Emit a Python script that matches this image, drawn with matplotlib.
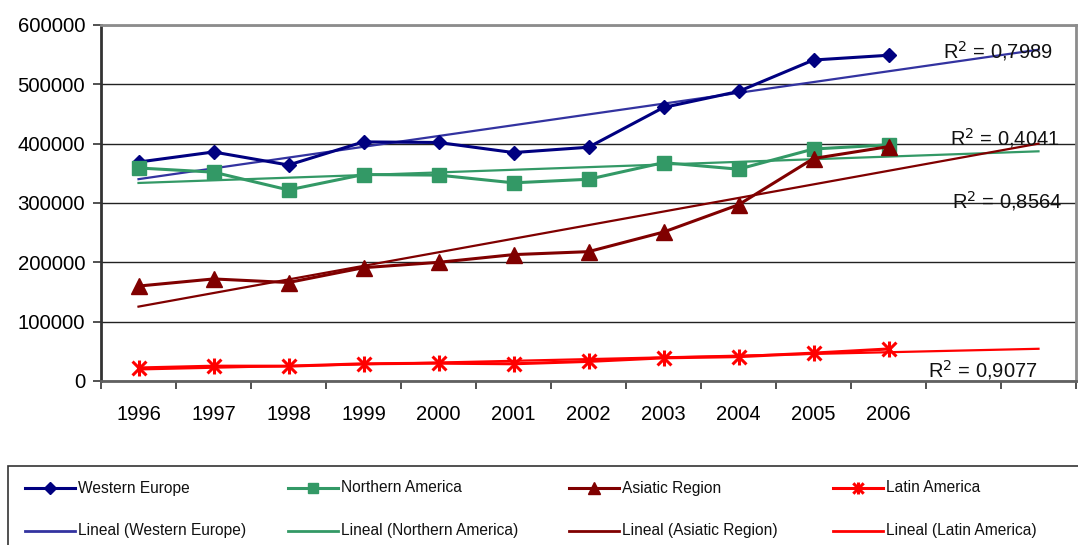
import numpy as np
import matplotlib
matplotlib.use("Agg")
import matplotlib.pyplot as plt
from matplotlib.lines import Line2D
from matplotlib.patches import Rectangle
from matplotlib.path import Path

plt.rcParams['font.family'] = ['Liberation Sans', 'DejaVu Sans']

# Annual figures by region
years = ['1996', '1997', '1998', '1999', '2000', '2001', '2002', '2003', '2004', '2005', '2006']
western_europe = [369000, 386000, 364000, 403000, 402000, 385000, 394000, 461000, 488000, 541000, 549000]
northern_america = [359000, 352000, 322000, 348000, 347000, 334000, 340000, 368000, 357000, 391000, 398000]
asiatic_region = [160000, 172000, 166000, 191000, 200000, 213000, 218000, 251000, 297000, 375000, 395000]
latin_america = [22000, 25000, 25000, 29000, 30000, 29000, 33000, 39000, 41000, 47000, 54000]
series_names = ['Western Europe', 'Northern America', 'Asiatic Region', 'Latin America']
r_squared = ['0,7989', '0,4041', '0,8564', '0,9077']
forecast_periods = 2

# Star marker: an X crossed by a vertical stroke
star = Path([(-1, -1), (1, 1), (-1, 1), (1, -1), (0, -1.15), (0, 1.15)],
            [Path.MOVETO, Path.LINETO, Path.MOVETO, Path.LINETO, Path.MOVETO, Path.LINETO])

series_values = [western_europe, northern_america, asiatic_region, latin_america]
line_colors = ['#000080', '#339966', '#800000', '#FF0000']
trend_colors = ['#3333A0', '#339966', '#800000', '#FF0000']
markers = ['D', 's', '^', star]
marker_sizes = [7.6, 10.5, 11.0, 11.5]
marker_edge = [1, 1, 1, 2.2]

fig = plt.figure(figsize=(10.78, 5.45), dpi=100)
ax = fig.add_axes([101 / 1078, 1 - 381 / 545, 975 / 1078, 356 / 545])

n = len(years)
x = np.arange(n)
x_trend = np.arange(n + forecast_periods)

for vals, lc, tc, mk, ms, mew in zip(series_values, line_colors, trend_colors,
                                     markers, marker_sizes, marker_edge):
    ax.plot(x, vals, color=lc, lw=2.2, marker=mk, markersize=ms,
            markerfacecolor=lc, markeredgecolor=lc, markeredgewidth=mew,
            zorder=4, clip_on=False)
    slope, intercept = np.polyfit(x + 1, vals, 1)
    ax.plot(x_trend, slope * (x_trend + 1) + intercept, color=tc, lw=1.6, zorder=3)

ax.set_xlim(-0.5, n + forecast_periods - 0.5)
ax.set_ylim(0, 600000)
ax.set_yticks(np.arange(0, 600001, 100000))
ax.set_yticklabels([f'{v:d}' for v in range(0, 600001, 100000)], fontsize=14.7)
ax.set_xticks(x)
ax.set_xticklabels(years, fontsize=14.5)
ax.set_xticks(np.arange(-0.5, n + forecast_periods, 1), minor=True)
ax.tick_params(axis='x', which='major', length=0, pad=17)
ax.tick_params(axis='x', which='minor', length=6, width=1.2, color='#333333')
ax.tick_params(axis='y', which='major', length=6, width=1.2, pad=5.5, color='#333333')

ax.yaxis.grid(True, color='#222222', lw=1.0)
ax.set_axisbelow(True)
for side in ['top', 'right']:
    ax.spines[side].set_color('#8C8C8C')
    ax.spines[side].set_linewidth(2)
ax.spines['left'].set_color('#333333')
ax.spines['left'].set_linewidth(2)
ax.spines['bottom'].set_color('#606060')
ax.spines['bottom'].set_linewidth(2)

# R-squared annotations for the trend lines
r2_pos = [(1053, 51), (1060, 138), (1062, 201), (1038, 370)]
for (px, py), r2 in zip(r2_pos, r_squared):
    fig.text(px / 1078, 1 - py / 545, f'R$^2$ = {r2}', ha='right', va='center',
             fontsize=14.5, color='#111111')

# Legend box below the plot
fig.patches.append(Rectangle((8 / 1078, -0.05), 1.1, 1 - 466 / 545 + 0.05,
                             transform=fig.transFigure, fill=False,
                             edgecolor='#333333', lw=1.2, clip_on=False))
col_x = [25, 288, 569, 833]
row_y = [488, 531]
for i, (name, lc, tc, mk, ms, mew) in enumerate(zip(series_names, line_colors, trend_colors,
                                                    markers, marker_sizes, marker_edge)):
    x0 = col_x[i] / 1078
    x1 = (col_x[i] + 50) / 1078
    ya = 1 - row_y[0] / 545
    yb = 1 - row_y[1] / 545
    fig.add_artist(Line2D([x0, x1], [ya, ya], color=lc, lw=2.2))
    fig.add_artist(Line2D([(x0 + x1) / 2], [ya], color=lc, marker=mk, markersize=ms * 0.75,
                          markerfacecolor=lc, markeredgecolor=lc,
                          markeredgewidth=mew, linestyle='none'))
    fig.text(x1 + 3 / 1078, ya, name, ha='left', va='center', fontsize=11.2, color='#111111')
    fig.add_artist(Line2D([x0, x1], [yb, yb], color=tc, lw=2.0))
    fig.text(x1 + 3 / 1078, yb, f'Lineal ({name})', ha='left', va='center',
             fontsize=11.2, color='#111111')

fig.savefig('out.png', dpi=100)
